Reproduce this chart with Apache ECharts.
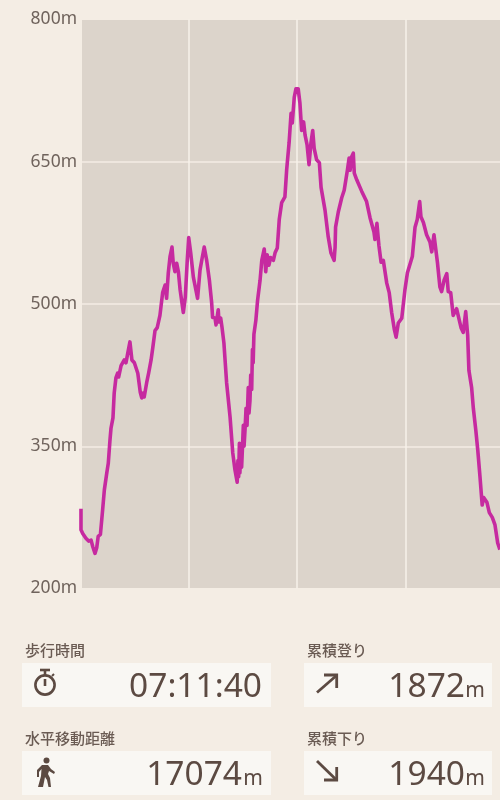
<!DOCTYPE html>
<html><head><meta charset="utf-8">
<style>html,body{margin:0;padding:0;background:#f4ede4}#c{width:500px;height:800px}</style>
<script src="https://cdn.jsdelivr.net/npm/echarts@6/dist/echarts.min.js"></script>
</head><body><div id="c"></div>
<script>
const distanceKm = [0.04,0.04,0.11,0.17,0.24,0.35,0.45,0.52,0.61,0.68,0.74,0.83,0.92,0.99,1.09,1.15,1.22,1.26,1.34,1.39,1.46,1.53,1.57,1.67,1.74,1.80,1.87,1.94,2.03,2.11,2.21,2.35,2.45,2.51,2.57,2.61,2.71,2.79,2.89,2.96,3.05,3.14,3.25,3.36,3.46,3.52,3.59,3.66,3.74,3.79,3.86,3.93,4.00,4.07,4.20,4.28,4.36,4.42,4.50,4.61,4.69,4.78,4.88,4.97,5.05,5.15,5.26,5.35,5.39,5.49,5.53,5.62,5.65,5.72,5.77,5.85,5.96,6.10,6.21,6.30,6.39,6.42,6.45,6.48,6.50,6.53,6.57,6.61,6.64,6.67,6.71,6.75,6.79,6.84,6.87,6.91,6.94,6.98,7.01,7.04,7.07,7.15,7.22,7.32,7.39,7.49,7.55,7.61,7.68,7.75,7.86,7.93,8.02,8.10,8.20,8.33,8.40,8.50,8.58,8.63,8.71,8.78,8.87,8.94,9.01,9.09,9.15,9.23,9.31,9.39,9.46,9.52,9.62,9.73,9.80,9.96,10.09,10.20,10.33,10.37,10.39,10.50,10.64,10.74,10.87,10.94,10.98,11.04,11.11,11.15,11.25,11.45,11.65,11.79,11.95,11.99,12.07,12.15,12.24,12.33,12.47,12.57,12.67,12.78,12.85,12.94,13.08,13.21,13.31,13.39,13.51,13.62,13.71,13.81,13.86,13.96,14.09,14.23,14.30,14.39,14.53,14.63,14.70,14.80,14.91,14.97,15.07,15.17,15.31,15.49,15.58,15.68,15.76,15.81,15.92,15.99,16.09,16.17,16.26,16.35,16.41,16.54,16.64,16.76,16.87,16.98,17.07];
const elevationM = [284,262,258,260,253,250,251,244,237,243,255,257,283,304,322,332,357,369,380,406,422,427,423,435,434,441,438,448,460,441,438,427,407,401,406,402,417,427,441,454,472,475,488,512,520,506,533,550,560,543,534,543,534,515,491,507,546,570,554,528,527,506,536,549,560,546,525,502,486,485,478,494,481,485,476,459,417,381,343,325,312,335,318,353,322,340,328,352,372,350,368,390,372,412,385,398,425,410,452,438,468,483,504,525,546,558,534,552,541,549,546,554,559,589,607,613,641,670,701,691,718,727,727,712,683,692,678,668,647,670,683,664,652,649,623,599,571,554,546,560,581,597,612,620,641,654,641,655,659,638,631,619,608,591,576,568,585,562,544,546,522,512,491,473,465,480,485,515,533,534,550,581,589,608,592,586,573,565,555,573,544,518,513,525,532,513,512,488,495,475,470,492,467,430,412,390,367,346,318,288,296,291,280,275,267,248,241];
const elevationTicks = [200,350,500,650,800];
const statLabels = ['歩行時間','水平移動距離','累積登り','累積下り'];
const statValues = ['07:11:40','17074','1872','1940'];
const statUnits = ['','m','m','m'];

const INK='#5c4a42', LABEL='#6a5b53', PANEL='#f9f7f3';
const NUM='"Noto Sans","Open Sans",sans-serif', CJK='"Noto Sans CJK JP",sans-serif';
const panels=[[22,663,249,44],[22,751,249,44],[304,663,188,44],[304,751,188,44]];
const labelXY=[[25,650],[25,738],[307,650],[307,738]];
const valueX=[262,242,465,465], unitX=[0,263,485,485];
const g=[{type:'rect',z:-1,silent:true,shape:{x:82,y:20,width:418,height:568},style:{fill:'#dcd4cb'}}];
panels.forEach((p,i)=>{
  g.push({type:'rect',shape:{x:p[0],y:p[1],width:p[2],height:p[3]},style:{fill:PANEL}});
  g.push({type:'text',x:labelXY[i][0],y:labelXY[i][1],style:{text:statLabels[i],font:'500 15px '+CJK,fill:LABEL,textVerticalAlign:'middle'}});
  g.push({type:'text',x:valueX[i],y:p[1]+24,style:{text:statValues[i],font:'400 33.5px '+NUM,fill:INK,textAlign:'right',textVerticalAlign:'middle'}});
  if(statUnits[i]) g.push({type:'text',x:unitX[i],y:p[1]+28,style:{text:statUnits[i],font:'400 21px '+NUM,fill:INK,textAlign:'right',textVerticalAlign:'middle'}});
});
const st={stroke:INK,lineWidth:2.6,fill:'none'};
g.push({type:'circle',shape:{cx:45,cy:685,r:9.6},style:st});
g.push({type:'line',shape:{x1:40,y1:670,x2:50,y2:670},style:st});
g.push({type:'line',shape:{x1:45,y1:671,x2:45,y2:675},style:st});
g.push({type:'line',shape:{x1:45,y1:679,x2:45,y2:686},style:st});
g.push({type:'line',shape:{x1:52,y1:676,x2:54,y2:674},style:{stroke:INK,lineWidth:2}});
g.push({type:'circle',shape:{cx:46.5,cy:760.5,r:3},style:{fill:INK}});
g.push({type:'polygon',shape:{points:[[42,765],[48,765],[51,769],[55,772],[54,774],[49,771],[48,774],[50,778],[51,787],[48.5,787],[47,780],[45,777],[43,787],[38,787],[41,776],[41.5,769],[39,772],[39,777],[37,777],[37,770]]},style:{fill:INK}});
[[317,692.5,336.5,675.5],[317,761,336.5,780]].forEach(a=>g.push({type:'line',shape:{x1:a[0],y1:a[1],x2:a[2],y2:a[3]},style:{stroke:INK,lineWidth:2.8}}));
g.push({type:'polyline',shape:{points:[[324,675],[336.7,675],[336.7,688]]},style:{stroke:INK,lineWidth:2.8,fill:'none'}});
g.push({type:'polyline',shape:{points:[[336.7,767],[336.7,780],[324,780]]},style:{stroke:INK,lineWidth:2.8,fill:'none'}});

const chart=echarts.init(document.getElementById('c'),null,{renderer:'canvas'});
chart.setOption({
  animation:false,backgroundColor:'#f4ede4',
  grid:{left:80,right:0,top:19.5,bottom:211.5,containLabel:false},
  xAxis:{type:'value',min:0,max:17.074,interval:4.41,
    axisLine:{show:false},axisTick:{show:false},axisLabel:{show:false},
    splitLine:{show:true,showMinLine:false,showMaxLine:false,lineStyle:{color:'#f7f2ea',width:1.5}}},
  yAxis:{type:'value',min:200,max:800,interval:150,
    axisLine:{show:false},axisTick:{show:false},
    axisLabel:{margin:3,formatter:v=>elevationTicks.includes(v)?v+'m':'',color:'#6f635c',fontFamily:'"Noto Sans",sans-serif',fontSize:17.5},
    splitLine:{show:true,showMinLine:false,showMaxLine:false,lineStyle:{color:'#f4ede4',width:1.5}}},
  series:[{type:'line',data:distanceKm.map((d,i)=>[d,elevationM[i]]),showSymbol:false,smooth:false,clip:false,
    lineStyle:{color:'#c62aa0',width:3.6,join:'round'}}],
  graphic:g
});
</script></body></html>
